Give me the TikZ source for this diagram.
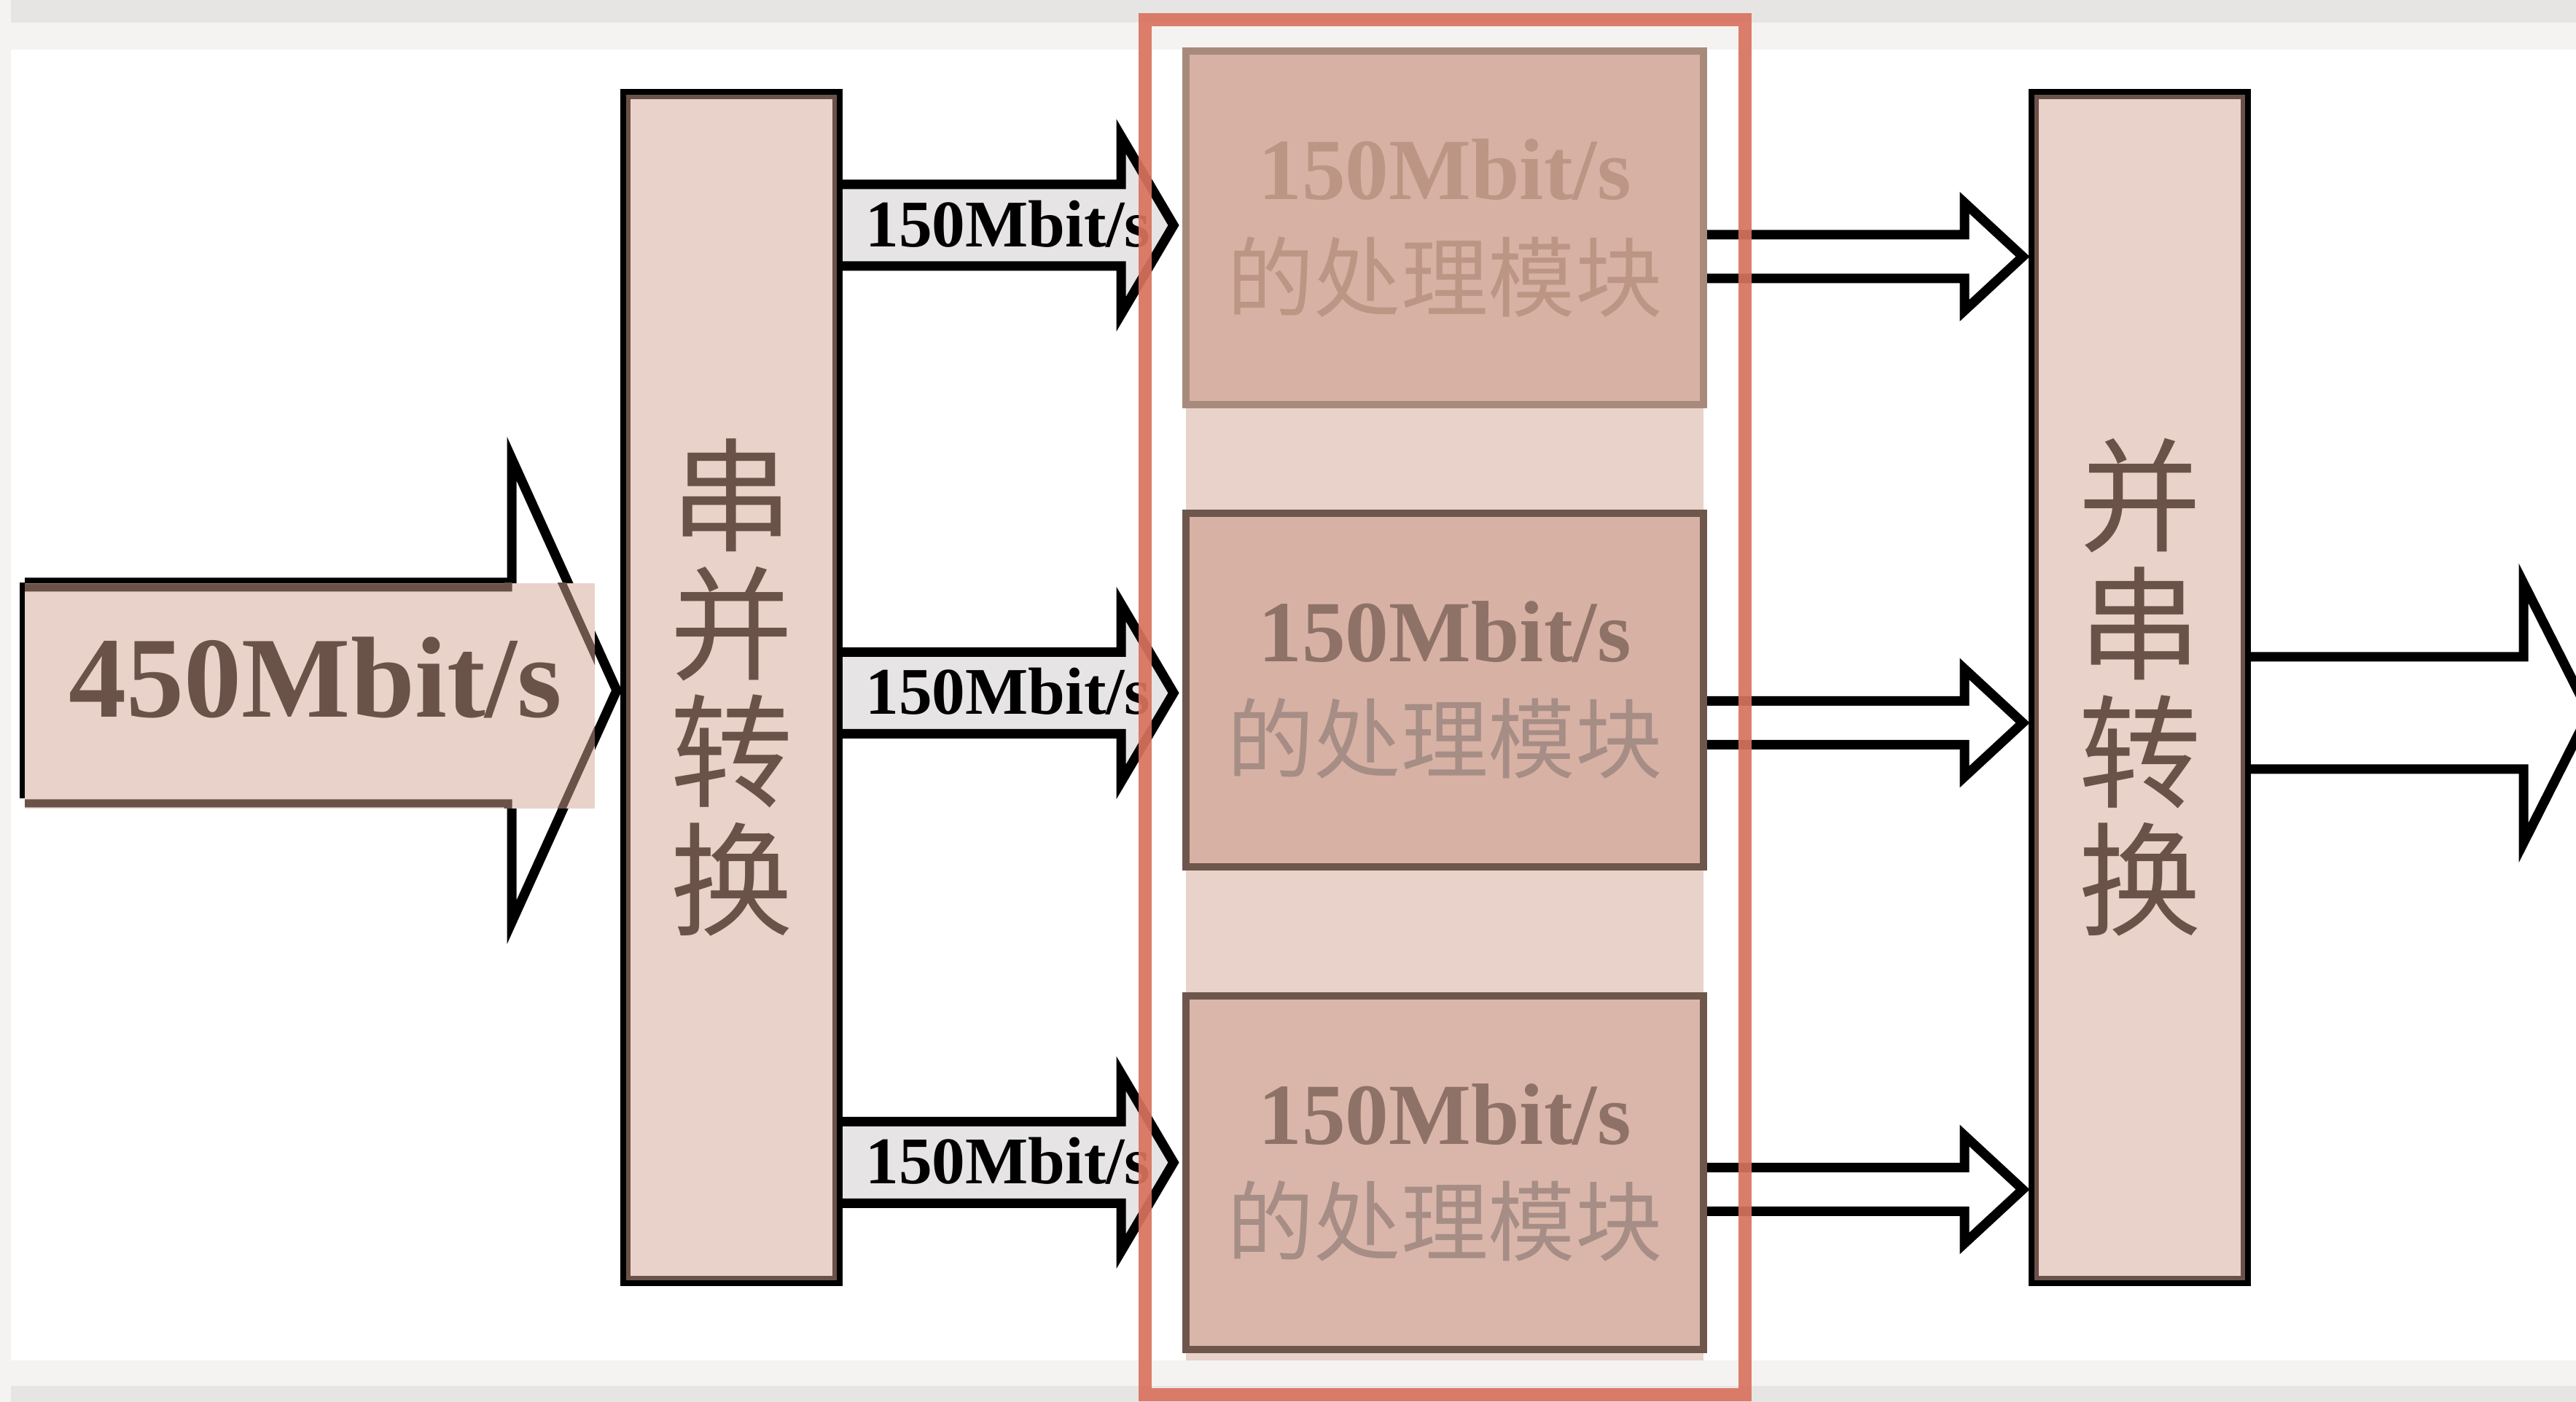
\documentclass[tikz,border=0pt]{standalone}
\usepackage{fontspec}
\setmainfont{Liberation Serif}
\newfontfamily\cjk{Noto Sans CJK SC}
\usepackage{tikz}
\usetikzlibrary{calc}
\definecolor{RateBrown}{HTML}{6B5248}
\definecolor{BoxPink}{HTML}{E8D2C9}
\definecolor{ModFill}{HTML}{D7B1A4}
\definecolor{ModLine}{HTML}{6E564C}
\definecolor{ModText}{HTML}{8F7267}
\definecolor{ModTextLight}{HTML}{A68D85}
\definecolor{FadeText}{HTML}{BC9584}
\definecolor{FadeLine}{HTML}{A88A7C}
\definecolor{FrameRed}{HTML}{D9735F}
\definecolor{ArrowGray}{HTML}{E6E4E5}
\definecolor{PageGray}{HTML}{F5F3F1}
\definecolor{BandGray}{HTML}{E7E5E3}

% block arrow: options, start, tip, body half, head half, head length
\newcommand{\blockarrow}[6]{%
  \draw[#1] ($(#2)+(0,#4)$) -- ($(#3)+(-#6,#4)$) -- ($(#3)+(-#6,#5)$)
    -- (#3) -- ($(#3)+(-#6,-#5)$) -- ($(#3)+(-#6,-#4)$) -- ($(#2)+(0,-#4)$);}

\begin{document}
\begin{tikzpicture}[
    convbox/.style={
      draw=black,
      line width=0.12cm,
      fill=BoxPink,
      minimum width=2.93cm,
      minimum height=16.3cm,
      inner sep=0pt,
      text=RateBrown,
      font=\cjk\fontsize{48}{50}\selectfont,
      align=center
    },
    module/.style={
      draw=#1,
      line width=0.1cm,
      minimum width=7.1cm,
      minimum height=4.85cm,
      inner sep=0pt,
      align=center,
      font=\fontsize{34}{43}\selectfont
    },
    innerline/.style={draw=RateBrown, line width=0.06cm},
    fatline/.style={draw=black, line width=0.13cm, fill=#1},
    ratelabel/.style={font=\bfseries\fontsize{26}{28}\selectfont, inner sep=0pt},
    redframe/.style={draw=FrameRed, line width=0.18cm, draw opacity=0.92}
  ]
  \useasboundingbox (0,0) rectangle (35.34,19.23);

  % page
  \fill[white] (0,0) rectangle (35.34,19.23);
  \fill[PageGray] (0,18.55) rectangle (35.34,19.23);
  \fill[BandGray] (0,18.92) rectangle (35.34,19.23);
  \fill[PageGray] (0,0) rectangle (35.34,0.57);
  \fill[BandGray] (0,0) rectangle (35.34,0.22);
  \fill[PageGray] (0,0) rectangle (0.15,19.23);

  % module column
  \fill[BoxPink] (16.27,0.57) rectangle (23.37,18.49);

  % converters
  \node[convbox] (sp) at (10.035,9.80) {串\\并\\转\\换};
  \node[convbox] (ps) at (29.355,9.80) {并\\串\\转\\换};
  \draw[innerline] ($(sp.south west)+(0.11,0.11)$) rectangle ($(sp.north east)-(0.11,0.11)$);
  \draw[innerline] ($(ps.south west)+(0.11,0.11)$) rectangle ($(ps.north east)-(0.11,0.11)$);

  % modules
  \node[module=FadeLine, fill=ModFill] (pm1) at (19.82,16.10)
    {{\color{FadeText}\bfseries 150Mbit/s}\\{\cjk\color{FadeText}的处理模块}};
  \node[module=ModLine, fill=ModFill] (pm2) at (19.82,9.765)
    {{\color{ModText}\bfseries 150Mbit/s}\\{\cjk\color{ModTextLight}的处理模块}};
  \node[module=ModLine, fill=ModFill!85!BoxPink] (pm3) at (19.82,3.145)
    {{\color{ModText}\bfseries 150Mbit/s}\\{\cjk\color{ModTextLight}的处理模块}};

  % input
  \coordinate (intip) at ($(sp.west)+(-0.05,-0.04)$);
  \coordinate (src) at (0.34,9.76);
  \blockarrow{fatline=white}{src}{intip}{1.48}{3.18}{1.44}
  \draw[fatline=white] ($(src)+(0,1.48)$) -- ($(src)+(0,-1.48)$);
  \fill[BoxPink] (0.34,8.14) rectangle (8.16,11.23);
  \coordinate (src2) at ($(src)+(-0.05,-0.07)$);
  \coordinate (intip2) at ($(intip)+(-0.05,-0.07)$);
  \begin{scope}
    \clip (0.34,8.14) rectangle (8.16,11.23);
    \blockarrow{draw=RateBrown, line width=0.11cm}{src2}{intip2}{1.48}{3.18}{1.44}
    \draw[draw=RateBrown, line width=0.11cm] ($(src2)+(0,1.48)$) -- ($(src2)+(0,-1.48)$);
  \end{scope}
  \node[font=\bfseries\fontsize{45}{48}\selectfont, text=RateBrown] (inrate) at (4.33,9.94) {450Mbit/s};

  % serial to parallel
  \coordinate (i1) at ($(pm1.west)+(-0.12,0.04)$);
  \coordinate (i2) at ($(pm2.west)+(-0.12,-0.04)$);
  \coordinate (i3) at ($(pm3.west)+(-0.12,0.14)$);
  \foreach \t in {i1,i2,i3}{
    \coordinate (\t s) at (sp.east |- \t);
    \blockarrow{fatline=ArrowGray}{\t s}{\t}{0.56}{1.22}{0.72}
    \node[ratelabel] (\t lab) at ($(\t s)!0.5!(\t)+(0,0.02)$) {150Mbit/s};
  }

  % parallel to serial
  \coordinate (o1s) at ($(pm1.east)+(0,-0.39)$);
  \coordinate (o2s) at ($(pm2.east)+(0,-0.45)$);
  \coordinate (o3s) at ($(pm3.east)+(0,-0.23)$);
  \foreach \t in {o1,o2,o3}{
    \coordinate (\t) at ($(ps.west |- \t s)+(-0.08,0)$);
    \blockarrow{fatline=white}{\t s}{\t}{0.30}{0.74}{0.80}
  }

  % output
  \coordinate (fs) at ($(ps.east)+(0,-0.35)$);
  \coordinate (ft) at ($(fs)+(4.64,0)$);
  \blockarrow{fatline=white}{fs}{ft}{0.77}{1.78}{0.90}

  % highlight
  \draw[redframe] (15.71,0.1) rectangle (23.94,18.96);

\end{tikzpicture}
\end{document}
